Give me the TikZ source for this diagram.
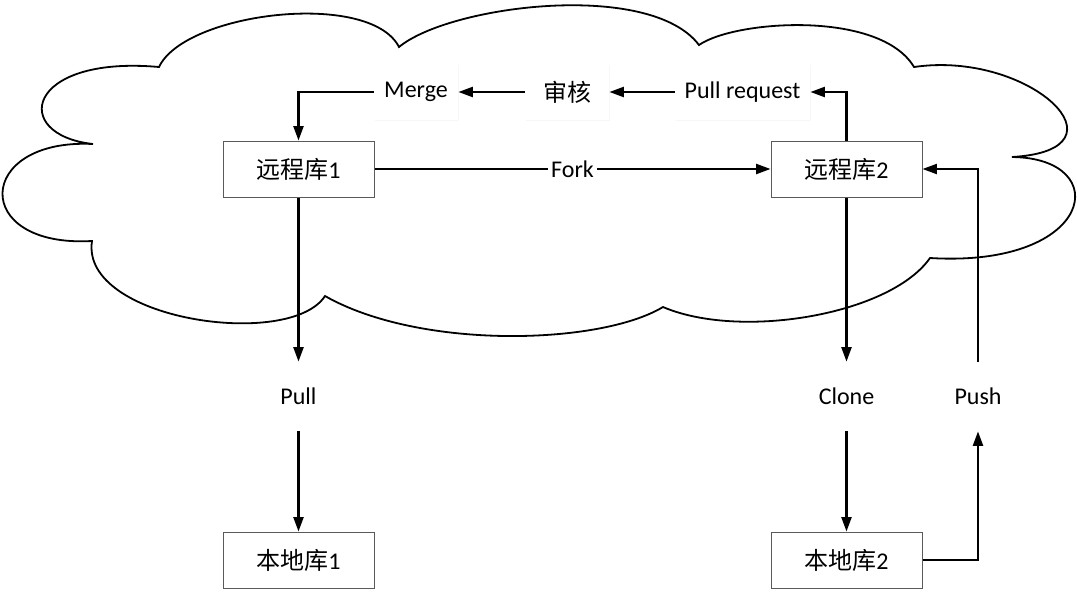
\documentclass[tikz,border=0pt]{standalone}
\usepackage{fontspec}
\setmainfont{Carlito}
\newfontfamily\cjk{Noto Sans CJK SC}
\usepackage{tikz}
\usetikzlibrary{arrows.meta,shadows}
\definecolor{gitdark}{HTML}{1A1A1A}
\definecolor{gitedge}{HTML}{5A5A5A}
\tikzset{
  repo/.style={draw=gitedge,line width=0.5pt,fill=white,minimum width=75.5pt,minimum height=28pt,inner sep=0pt,
    drop shadow={opacity=0.12,shadow xshift=0.6pt,shadow yshift=-0.6pt}},
  step box/.style={fill=white,minimum height=28pt,inner sep=0pt,
    drop shadow={opacity=0.06,shadow xshift=0.6pt,shadow yshift=-0.6pt}},
  verb/.style={minimum height=34.5pt,inner sep=0pt},
  ar/.style={-{Triangle[length=7.2pt,width=5pt]},draw=black,line width=1.05pt},
  lbl/.style={fill=white,inner sep=1.5pt},
}
\begin{document}
\begin{tikzpicture}[x=0.5pt,y=-0.5pt,font=\fontsize{12}{14}\selectfont]
  \useasboundingbox (0,0) rectangle (1077,596);
  % cloud
  \draw[line width=0.9pt,fill=white]
    (159,67) .. controls (185,12) and (370,-10) .. (399,47)
    .. controls (450,5) and (650,-20) .. (699,45)
    .. controls (735,20) and (880,10) .. (914,67)
    .. controls (1030,50) and (1135,150) .. (1012,157)
    .. controls (1115,158) and (1095,268) .. (930,258)
    .. controls (890,315) and (740,340) .. (663,307)
    .. controls (600,345) and (420,350) .. (325,296)
    .. controls (290,350) and (80,320) .. (92,241)
    .. controls (-30,248) and (-25,138) .. (93,144)
    .. controls (10,135) and (25,55) .. (159,67) -- cycle;
  % repositories
  \node[repo] (repo1) at (298.5,169) {{\cjk 远程库}1};
  \node[repo] (repo2) at (846.5,169) {{\cjk 远程库}2};
  \node[repo] (local1) at (298.5,560) {{\cjk 本地库}1};
  \node[repo] (local2) at (846.5,560) {{\cjk 本地库}2};
  % review chain
  \node[step box,minimum width=42pt] (merge) at (416,92) {Merge};
  \node[step box,minimum width=42pt] (review) at (567,92) {\cjk 审核};
  \node[step box,minimum width=67.5pt] (pr) at (742.5,92) {Pull request};
  % operations
  \node[verb] (pull) at (298.5,396.5) {Pull};
  \node[verb] (clone) at (846.5,396.5) {Clone};
  \node[verb] (push) at (978,396.5) {Push};
  \draw[ar] (merge.west) -| (repo1.north);
  \draw[ar] (review) -- (merge);
  \draw[ar] (pr) -- (review);
  \draw[ar] (repo2.north) |- (pr.east);
  \draw[ar] (repo1) -- node[lbl] {Fork} (repo2);
  \draw[ar] (repo1) -- (pull);
  \draw[ar] (pull) -- (local1);
  \draw[ar] (repo2) -- (clone);
  \draw[ar] (clone) -- (local2);
  \draw[ar] (local2.east) -| (push.south);
  \draw[ar] (push.north) |- (repo2.east);
\end{tikzpicture}
\end{document}
